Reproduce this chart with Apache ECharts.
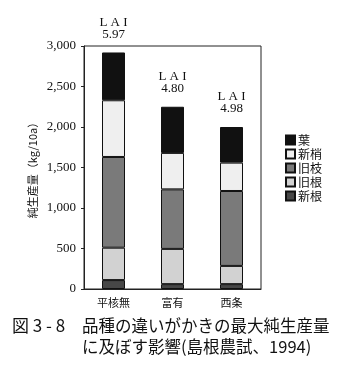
<!DOCTYPE html>
<html><head><meta charset="utf-8">
<script src="https://cdn.jsdelivr.net/npm/echarts@6/dist/echarts.min.js"></script>
<style>html,body{margin:0;padding:0;background:#fff;}#c{width:354px;height:373px;}</style>
</head><body><div id="c"></div>
<script>
const categories = ['平核無', '富有', '西条'];
const shinkon = [110, 60, 60];       // 新根
const kyukon = [400, 435, 225];      // 旧根
const kyushi = [1120, 735, 925];     // 旧枝
const shinsho = [700, 450, 350];     // 新梢
const ha = [590, 570, 440];          // 葉
const laiValues = ['5.97', '4.80', '4.98'];
const yTicks = [0, 500, 1000, 1500, 2000, 2500, 3000];

const serif = '"Liberation Serif", "DejaVu Serif", serif';
const jp = '"Noto Sans CJK JP", sans-serif';

const chart = echarts.init(document.getElementById('c'));
const mk = (name, data, color, extra) => Object.assign({
  name, type: 'bar', stack: 's', data, barWidth: 23,
  itemStyle: { color, borderColor: '#111', borderWidth: 1 },
  emphasis: { disabled: true }
}, extra || {});

chart.setOption({
  animation: false,
  backgroundColor: '#fff',
  grid: { left: 84, top: 46, right: 93, bottom: 84, show: true, borderColor: '#222', borderWidth: 1 },
  legend: {
    orient: 'vertical', left: 280, top: 129,
    itemWidth: 9, itemHeight: 9, itemGap: 2,
    icon: 'rect',
    data: ['葉', '新梢', '旧枝', '旧根', '新根'],
    textStyle: { fontFamily: jp, fontSize: 12, color: '#111', padding: [0, 0, 0, -2] }
  },
  xAxis: {
    type: 'category', data: categories,
    axisLine: { lineStyle: { color: '#222' } },
    axisTick: { inside: true, length: 3, lineStyle: { color: '#222' } },
    axisLabel: { fontFamily: jp, fontSize: 11, color: '#111', margin: 8 }
  },
  yAxis: {
    type: 'value', min: 0, max: 3000, interval: 500,
    name: '純生産量（kg/10a）', nameLocation: 'middle', nameGap: 46,
    nameTextStyle: { fontFamily: jp, fontSize: 11, color: '#111' },
    axisLine: { show: true, lineStyle: { color: '#222' } },
    axisTick: { show: true, length: 3, lineStyle: { color: '#222' } },
    splitLine: { show: false },
    axisLabel: {
      fontFamily: serif, fontSize: 13, color: '#111', margin: 8,
      formatter: v => yTicks.includes(v) ? v.toLocaleString('en-US') : ''
    }
  },
  series: [
    mk('新根', shinkon, '#474747'),
    mk('旧根', kyukon, '#d2d2d2'),
    mk('旧枝', kyushi, '#7a7a7a'),
    mk('新梢', shinsho, '#efefef'),
    mk('葉', ha, '#111111', {
      label: {
        show: true, position: 'top', distance: 12,
        fontFamily: serif, fontSize: 13, color: '#111', lineHeight: 12, align: 'center',
        formatter: p => 'L A I\n' + laiValues[p.dataIndex]
      }
    })
  ],
  graphic: [
    { type: 'text', left: 12, top: 317, style: { text: '図 3 - 8', fontFamily: jp, fontSize: 17, fill: '#111' } },
    { type: 'text', left: 82, top: 317, style: { text: '品種の違いがかきの最大純生産量', fontFamily: jp, fontSize: 16.5, fill: '#111' } },
    { type: 'text', left: 82, top: 338, style: { text: 'に及ぼす影響(島根農試、1994)', fontFamily: jp, fontSize: 16.5, fill: '#111' } }
  ]
});
</script></body></html>
